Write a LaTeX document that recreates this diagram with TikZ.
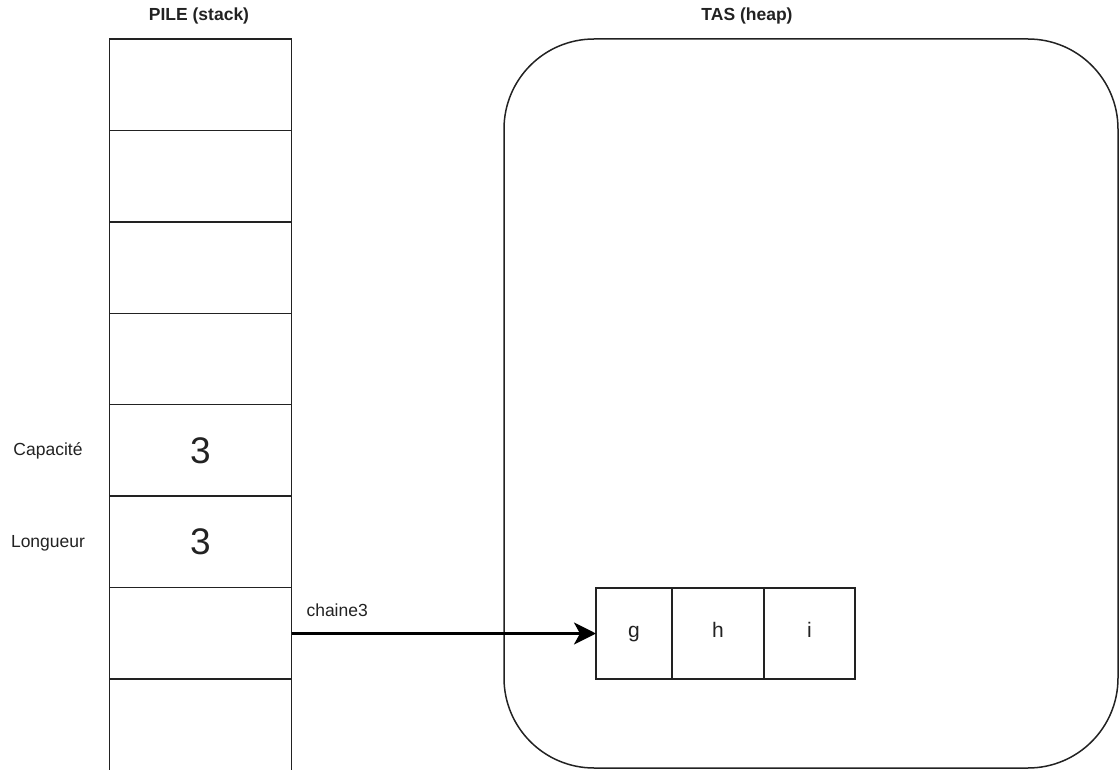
\documentclass[tikz,border=0pt]{standalone}
\usepackage{fontspec}
\setmainfont{Liberation Sans}
\usetikzlibrary{arrows.meta}

\definecolor{ink}{HTML}{222222}

\tikzset{
  cellbox/.style={draw=ink, line width=1.5pt, minimum width=182pt, minimum height=91.43pt,
                  inner sep=0pt, outer sep=0pt},
  arrcell/.style={draw=ink, line width=1.5pt, minimum height=91pt, inner sep=0pt, outer sep=0pt,
                  font=\fontsize{21}{24}\selectfont, text=ink,
                  text height=0.72em, text depth=0pt},
  title/.style={font=\fontsize{17.5}{20}\selectfont\bfseries, text=ink},
  sidelabel/.style={font=\fontsize{17.5}{20}\selectfont, text=ink},
  bignum/.style={font=\fontsize{37}{40}\selectfont, text=ink},
  pointer/.style={line width=3pt, draw=black,
                  -{Stealth[length=22pt, width=22pt, inset=6pt]}}
}

\begin{document}
\begin{tikzpicture}[x=1pt, y=-1pt]
  \useasboundingbox (0,0) rectangle (1120,770);

  % titles
  \node[title] (tstack) at (199,16) {PILE (stack)};
  \node[title] (theap) at (747,16) {TAS (heap)};

  % heap region
  \node[draw=ink, line width=1.5pt, rounded corners=90pt, minimum width=614pt,
        minimum height=729pt, inner sep=0pt] (heap) at (811,403.5) {};

  % stack cells
  \foreach \k in {1,...,8} {
    \node[cellbox] (s\k) at (200.5, {39 + (\k-0.5)*91.43}) {};
  }
  \node[bignum] (cap) at (s5.center) {3};
  \node[bignum] (len) at (s6.center) {3};

  % labels to the left of the stack
  \node[sidelabel] (lcap) at (48,451) {Capacité};
  \node[sidelabel] (llen) at (48,543) {Longueur};

  % string buffer on the heap
  \node[arrcell, minimum width=76pt] (g) at (634,633.5) {g};
  \node[arrcell, minimum width=92pt, anchor=west] (h) at (g.east) {h};
  \node[arrcell, minimum width=91pt, anchor=west] (i) at (h.east) {i};

  % pointer from the stack slot to the buffer
  \draw[pointer] (s7.east |- g.west) -- (g.west);
  \node[sidelabel, anchor=west] (lptr) at (303,610) {chaine3};
\end{tikzpicture}
\end{document}
